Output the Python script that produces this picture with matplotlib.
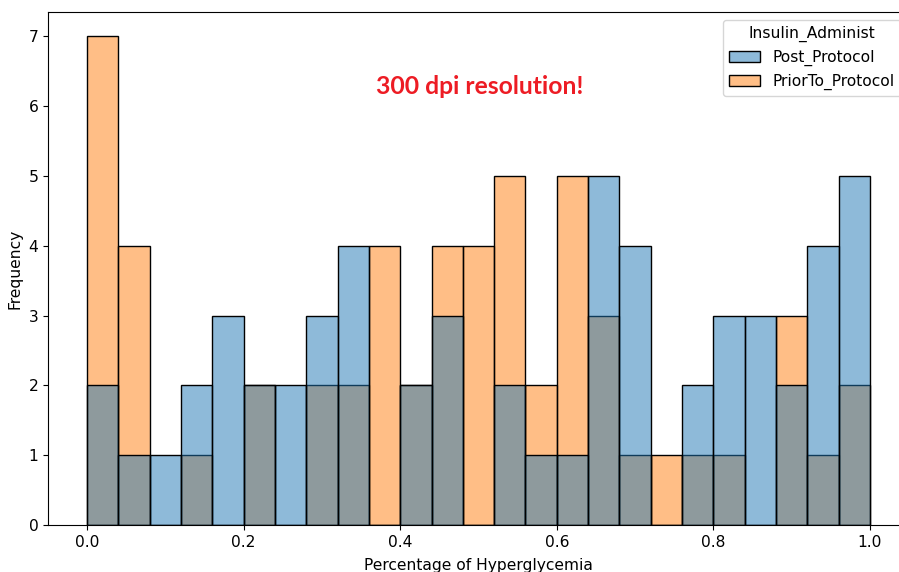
import numpy as np
import matplotlib.pyplot as plt

# bin counts (25 bins over 0..1)
bin_edges = np.linspace(0, 1, 26)
post_protocol = [2, 1, 1, 2, 3, 2, 2, 3, 4, 0, 2, 3, 0, 2, 1, 1, 5, 4, 0, 2, 3, 3, 2, 4, 5]
prior_protocol = [7, 4, 0, 1, 0, 2, 0, 2, 2, 4, 2, 4, 4, 5, 2, 5, 3, 1, 1, 1, 1, 0, 3, 1, 2]
labels = ['Post_Protocol', 'PriorTo_Protocol']
colors = ['#1f77b4', '#ff7f0e']

plt.rcParams['font.size'] = 11.2

fig = plt.figure(figsize=(8.99, 5.72), dpi=100)
ax = fig.add_axes([48 / 899, 47 / 572, 861 / 899, 513 / 572])

width = np.diff(bin_edges)
# PriorTo drawn first, Post on top (seaborn order)
for counts, lab, col in [(prior_protocol, labels[1], colors[1]), (post_protocol, labels[0], colors[0])]:
    ax.bar(bin_edges[:-1], counts, width=width, align='edge',
           facecolor=(*plt.matplotlib.colors.to_rgb(col), 0.5),
           edgecolor='black', linewidth=1, label=lab)

ax.set_xlim(-0.05, 1.05)
ax.set_ylim(0, 7.35)
ax.set_xlabel('Percentage of Hyperglycemia', labelpad=6)
ax.set_ylabel('Frequency')

handles, labs = ax.get_legend_handles_labels()
ax.legend(handles[::-1], labs[::-1], title='Insulin_Administ', loc='upper right',
          title_fontsize=11.2)

fig.text(480 / 899, 1 - 86 / 572, '300 dpi resolution!', color='#ed1c24',
         fontsize=17.8, fontweight='bold', family='Lato', ha='center', va='center')

fig.savefig('out.png', dpi=100)
